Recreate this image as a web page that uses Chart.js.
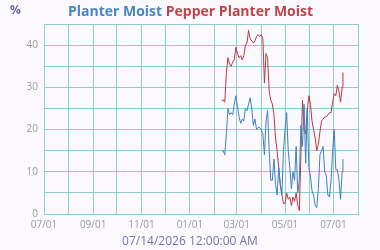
<!DOCTYPE html>
<html>
<head>
<meta charset="utf-8">
<title>Planter Moist</title>
<script src="https://cdn.jsdelivr.net/npm/chart.js"></script>
<style>
  html, body { margin: 0; padding: 0; background: #fbf9fe; }
  #wrap { width: 380px; height: 250px; }
</style>
</head>
<body>
<div id="wrap"><canvas id="moistChart" width="380" height="250"></canvas></div>
<script>
// readings, every two days (last one is the day before the timestamp)
const dates = [
  '2026-02-10', '2026-02-12', '2026-02-14', '2026-02-16', '2026-02-18', '2026-02-20', '2026-02-22', '2026-02-24', '2026-02-26', '2026-02-28',
  '2026-03-02', '2026-03-04', '2026-03-06', '2026-03-08', '2026-03-10', '2026-03-12', '2026-03-14', '2026-03-16', '2026-03-18', '2026-03-20',
  '2026-03-22', '2026-03-24', '2026-03-26', '2026-03-28', '2026-03-30', '2026-04-01', '2026-04-03', '2026-04-05', '2026-04-07', '2026-04-09',
  '2026-04-11', '2026-04-13', '2026-04-15', '2026-04-17', '2026-04-19', '2026-04-21', '2026-04-23', '2026-04-25', '2026-04-27', '2026-04-29',
  '2026-05-01', '2026-05-03', '2026-05-05', '2026-05-07', '2026-05-09', '2026-05-11', '2026-05-13', '2026-05-15', '2026-05-17', '2026-05-19',
  '2026-05-21', '2026-05-23', '2026-05-25', '2026-05-27', '2026-05-29', '2026-05-31', '2026-06-02', '2026-06-04', '2026-06-06', '2026-06-08',
  '2026-06-10', '2026-06-12', '2026-06-14', '2026-06-16', '2026-06-18', '2026-06-20', '2026-06-22', '2026-06-24', '2026-06-26', '2026-06-28',
  '2026-06-30', '2026-07-02', '2026-07-04', '2026-07-06', '2026-07-08', '2026-07-10', '2026-07-12', '2026-07-13'
];

const planterMoist = [
  15, 15, 14, 19, 25, 23.5, 24, 23.5, 26, 28,
  25.5, 23, 21.5, 22.5, 22, 25, 24.5, 26, 27.5, 25,
  21, 22.5, 20, 20.5, 20.5, 20, 19, 14, 22, 24.5,
  15, 8, 8, 13, 7, 4.5, 11, 7, 4.5, 15,
  20, 24, 15, 11, 6, 10, 8, 16, 5, 8,
  21, 16, 26, 12, 25, 11, 9, 5.5, 4.5, 2,
  1.5, 6, 14, 15, 16, 10, 9, 4.5, 4, 8,
  15, 20, 10.5, 10.5, 8, 3.5, 10, 13
];

const pepperPlanterMoist = [
  27, 27, 26.5, 33.5, 37, 35.5, 35, 36, 36.5, 39.5,
  38, 37, 37.5, 36.5, 37.5, 40, 40.5, 43.5, 41.5, 41,
  40.5, 41, 42, 42.5, 42, 42.5, 41.5, 31, 38, 37,
  29, 27, 26, 23.5, 18, 15, 11, 7, 4.5, 2.5,
  2.5, 5, 3.5, 4, 2, 4, 3, 5, 2, 0.8,
  14, 27, 20, 19, 24.5, 28, 26, 22, 20, 18,
  15, 16.5, 19.5, 22, 22.5, 23, 23, 23.5, 24, 24,
  26.5, 28.5, 28, 30.5, 29, 26.5, 30, 33.5
];

// x axis: one grid line per month, label every other month
const monthTicks = [
  '2025-07-01', '2025-08-01', '2025-09-01', '2025-10-01', '2025-11-01', '2025-12-01', '2026-01-01',
  '2026-02-01', '2026-03-01', '2026-04-01', '2026-05-01', '2026-06-01', '2026-07-01', '2026-08-01'
];
const yTicks = [0, 5, 10, 15, 20, 25, 30, 35, 40, 45];
const yLabels = ['0', '', '10', '', '20', '', '30', '', '40', ''];

const stamp = '07/14/2026 12:00:00 AM';

const BLUE = '#3f80bd';
const RED = '#b83a40';
const GRID = '#8ecfcd';

function mmdd(ms) {
  const d = new Date(ms);
  const m = String(d.getUTCMonth() + 1).padStart(2, '0');
  const day = String(d.getUTCDate()).padStart(2, '0');
  return m + '/' + day;
}

const pts = vals => dates.map((d, i) => ({ x: Date.parse(d), y: vals[i] }));

// background, the two-coloured heading, the unit and the timestamp
const decor = {
  id: 'decor',
  beforeDraw(chart) {
    const ctx = chart.ctx;
    ctx.save();
    ctx.fillStyle = '#fbf9fe';
    ctx.fillRect(0, 0, chart.width, chart.height);
    ctx.restore();
  },
  afterDraw(chart) {
    const ctx = chart.ctx;
    ctx.save();
    ctx.textBaseline = 'alphabetic';
    ctx.font = 'bold 14px "Open Sans"';
    const a = 'Planter Moist', b = 'Pepper Planter Moist';
    const gap = ctx.measureText(' ').width;
    const wa = ctx.measureText(a).width, wb = ctx.measureText(b).width;
    const x = 190.5 - (wa + gap + wb) / 2;
    ctx.fillStyle = '#4a86bf';
    ctx.fillText(a, x, 16);
    ctx.fillStyle = '#bd454a';
    ctx.fillText(b, x + wa + gap, 16);

    ctx.font = 'bold 12px "Open Sans"';
    ctx.fillStyle = '#6a6a9c';
    ctx.fillText('%', 10, 13.5);

    ctx.font = '12px "Open Sans"';
    ctx.fillStyle = '#7573ad';
    ctx.textAlign = 'center';
    ctx.textBaseline = 'middle';
    ctx.fillText(stamp, 190, 242);
    ctx.restore();
  }
};

Chart.defaults.font.family = '"Open Sans", "Noto Sans", sans-serif';

new Chart(document.getElementById('moistChart'), {
  type: 'line',
  data: {
    datasets: [
      {
        label: 'Planter Moist',
        data: pts(planterMoist),
        borderColor: BLUE,
        borderWidth: 1,
        pointRadius: 0,
        fill: false,
        tension: 0
      },
      {
        label: 'Pepper Planter Moist',
        data: pts(pepperPlanterMoist),
        borderColor: RED,
        borderWidth: 1,
        pointRadius: 0,
        fill: false,
        tension: 0
      }
    ]
  },
  options: {
    responsive: false,
    animation: false,
    layout: { padding: { left: 0, right: 22, top: 24, bottom: 15.4 } },
    plugins: {
      legend: { display: false },
      tooltip: { enabled: false },
      title: { display: false }
    },
    scales: {
      x: {
        type: 'linear',
        min: Date.parse(monthTicks[0]),
        max: Date.parse(monthTicks[monthTicks.length - 1]),
        afterBuildTicks: s => { s.ticks = monthTicks.map(d => ({ value: Date.parse(d) })); },
        afterFit: s => { s.height = 20.6; },
        grid: { color: GRID, drawTicks: false, lineWidth: 1 },
        border: { color: GRID },
        ticks: {
          autoSkip: false,
          maxRotation: 0,
          padding: 5,
          color: '#9a9a9a',
          font: { size: 10 },
          callback: (v, i) => (i % 2 === 0 ? mmdd(v) : '')
        }
      },
      y: {
        min: 0,
        max: 45,
        afterBuildTicks: s => { s.ticks = yTicks.map(v => ({ value: v })); },
        afterFit: s => { s.width = 44; },
        grid: { color: GRID, drawTicks: false, lineWidth: 1 },
        border: { color: GRID },
        ticks: {
          padding: 6,
          color: '#9a9a9a',
          font: { size: 10 },
          callback: (v, i) => yLabels[i]
        }
      }
    }
  },
  plugins: [decor]
});
</script>
</body>
</html>
